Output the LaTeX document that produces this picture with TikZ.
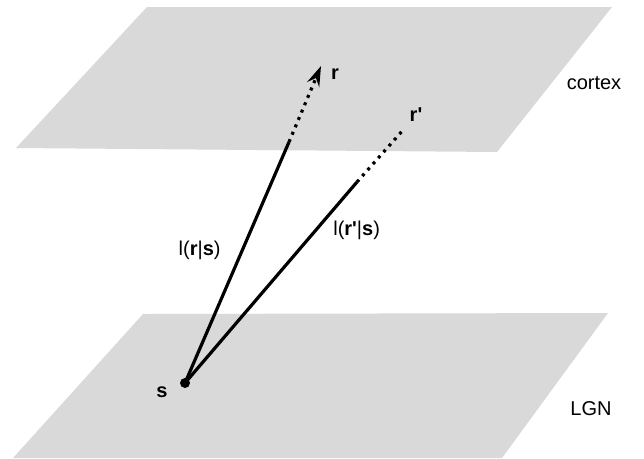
\documentclass[tikz,border=0pt]{standalone}
\usepackage{fontspec}
\setmainfont{Liberation Sans}[Ligatures=TeXOff]
\usetikzlibrary{arrows.meta}

\begin{document}
\begin{tikzpicture}[x=1pt, y=-1pt, plane/.style={fill=black!15, draw=none}, link/.style={line width=3.2pt}, dots/.style={line width=3.2pt, dash pattern=on 3pt off 5pt}, lbl/.style={inner sep=0pt, font=\fontsize{20}{24}\selectfont}]
    \useasboundingbox (0,0) rectangle (644,458);

    % the two layers
    \fill[plane] (147,7) -- (612,7) -- (497,152) -- (16,148) -- cycle;
    \fill[plane] (143,314) -- (608,313) -- (502,458) -- (13,458) -- cycle;
    \node[lbl] (cortex) at (594,83) {cortex};
    \node[lbl] (LGN) at (591,409) {LGN};

    % source and targets
    \node[circle, fill=black, inner sep=0pt, minimum size=10pt] (s) at (185,383) {};
    \node[lbl] (slabel) at (162,392) {\textbf{s}};
    \coordinate (rmid) at (289,142);
    \coordinate (rtip) at (321,66);
    \coordinate (qmid) at (357,182);
    \coordinate (qtip) at (404,129);
    \node[lbl] (r) at (335,74) {\textbf{r}};
    \node[lbl] (q) at (416,115) {\textbf{r'}};

    \draw[link] (s.center) -- node[lbl, pos=0.55, left=20pt] {l(\textbf{r}|\textbf{s})} (rmid);
    \draw[dots, -{Stealth[length=20pt, width=13pt, inset=7pt]}] (rmid) -- (rtip);
    \draw[link] (s.center) -- node[lbl, pos=0.76, right=16pt] {l(\textbf{r'}|\textbf{s})} (qmid);
    \draw[dots] (qmid) -- (qtip);
\end{tikzpicture}
\end{document}
